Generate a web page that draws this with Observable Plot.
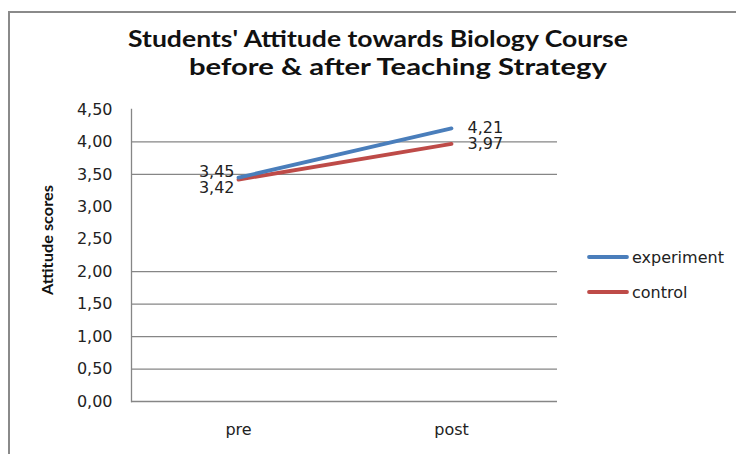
<!DOCTYPE html>
<html>
<head>
<meta charset="utf-8">
<script src="https://cdn.jsdelivr.net/npm/d3@7"></script>
<script src="https://cdn.jsdelivr.net/npm/@observablehq/plot@0.6"></script>
<style>
  html, body { margin: 0; padding: 0; background: #fff; }
  #wrap { position: relative; width: 736px; height: 454px; overflow: hidden; background: #fff; }
  #frame { position: absolute; left: 8px; top: 11px; width: 800px; height: 600px; border: 2px solid #8a8a8a; box-sizing: border-box; }
  #chart { position: absolute; left: 0; top: 0; }
  #overlay { position: absolute; left: 0; top: 0; pointer-events: none; }
</style>
</head>
<body>
<div id="wrap">
  <div id="frame"></div>
  <div id="chart"></div>
  <svg id="overlay" width="736" height="454"></svg>
</div>
<script>
// ---- data ----
const phases = ["pre", "post"];
const seriesNames = ["experiment", "control"];
const experiment = [3.45, 4.21];
const control = [3.42, 3.97];
const yTicks = [0, 0.5, 1, 1.5, 2, 2.5, 3, 3.5, 4, 4.5];
const gridValues = [0.5, 1, 1.5, 2, 3.5, 4];
const colors = ["#4a7ebb", "#be4b48"];
const titleLines = ["Students' Attitude towards Biology Course", "before & after Teaching Strategy"];
const yAxisTitle = "Attitude scores";

const fmt = d => d.toFixed(2).replace(".", ",");

const rows = [];
phases.forEach((p, i) => {
  rows.push({phase: p, group: "experiment", score: experiment[i]});
  rows.push({phase: p, group: "control", score: control[i]});
});

const FS = 16;
const chart = Plot.plot({
  width: 736,
  height: 454,
  marginLeft: 131,
  marginRight: 179,
  marginTop: 109,
  marginBottom: 53,
  style: {fontFamily: "'DejaVu Sans', sans-serif", fontSize: FS + "px", color: "#222", background: "transparent", overflow: "visible"},
  x: {type: "point", domain: phases, padding: 0.5, label: null},
  y: {domain: [0, 4.5], label: null},
  color: {domain: seriesNames, range: colors},
  marks: [
    Plot.ruleY(gridValues, {stroke: "#868686", strokeWidth: 1.3}),
    Plot.ruleY([0], {stroke: "#868686", strokeWidth: 1.3}),
    Plot.frame({anchor: "left", stroke: "#868686", strokeWidth: 1.3}),
    Plot.axisY({ticks: yTicks, tickFormat: fmt, tickSize: 0, tickPadding: 19, label: null, fontSize: FS}),
    Plot.axisX({tickSize: 0, tickPadding: 22, label: null, fontSize: FS}),
    Plot.line(rows.filter(d => d.group === "control"), {x: "phase", y: "score", stroke: "group", strokeWidth: 3.8, strokeLinecap: "round"}),
    Plot.line(rows.filter(d => d.group === "experiment"), {x: "phase", y: "score", stroke: "group", strokeWidth: 3.8, strokeLinecap: "round"}),
    Plot.text(rows.filter(d => d.phase === "pre" && d.group === "experiment"), {x: "phase", y: "score", text: d => fmt(d.score), textAnchor: "end", dx: -4, dy: -6, fill: "#222", fontSize: FS}),
    Plot.text(rows.filter(d => d.phase === "pre" && d.group === "control"), {x: "phase", y: "score", text: d => fmt(d.score), textAnchor: "end", dx: -4, dy: 8, fill: "#222", fontSize: FS}),
    Plot.text(rows.filter(d => d.phase === "post"), {x: "phase", y: "score", text: d => fmt(d.score), textAnchor: "start", dx: 16, dy: 0, fill: "#222", fontSize: FS})
  ]
});
document.getElementById("chart").appendChild(chart);

const svg = d3.select("#overlay");

// title (two centred lines, widths matched to the reference)
const titleLayout = [{cx: 378, y: 47, len: 500}, {cx: 398, y: 75, len: 418}];
titleLines.forEach((t, i) => {
  svg.append("text")
    .attr("x", titleLayout[i].cx - titleLayout[i].len / 2)
    .attr("y", titleLayout[i].y)
    .attr("textLength", titleLayout[i].len)
    .attr("lengthAdjust", "spacingAndGlyphs")
    .attr("font-family", "Lato, 'Open Sans', sans-serif")
    .attr("font-weight", 700)
    .attr("font-size", 22)
    .attr("fill", "#111")
    .text(t);
});

// y-axis title (rotated)
svg.append("text")
  .attr("transform", "translate(53,240) rotate(-90)")
  .attr("x", -55)
  .attr("y", 0)
  .attr("textLength", 110)
  .attr("lengthAdjust", "spacingAndGlyphs")
  .attr("font-family", "Lato, sans-serif")
  .attr("font-weight", 700)
  .attr("font-size", 15.5)
  .attr("fill", "#111")
  .text(yAxisTitle);

// legend
const legY = [257, 292];
seriesNames.forEach((name, i) => {
  svg.append("line").attr("x1", 589).attr("x2", 627).attr("y1", legY[i]).attr("y2", legY[i])
    .attr("stroke", colors[i]).attr("stroke-width", 3.8).attr("stroke-linecap", "round");
  svg.append("text").attr("x", 632).attr("y", legY[i]).attr("dy", "0.35em")
    .attr("font-family", "'DejaVu Sans', sans-serif").attr("font-size", FS).attr("fill", "#222").text(name);
});
</script>
</body>
</html>
